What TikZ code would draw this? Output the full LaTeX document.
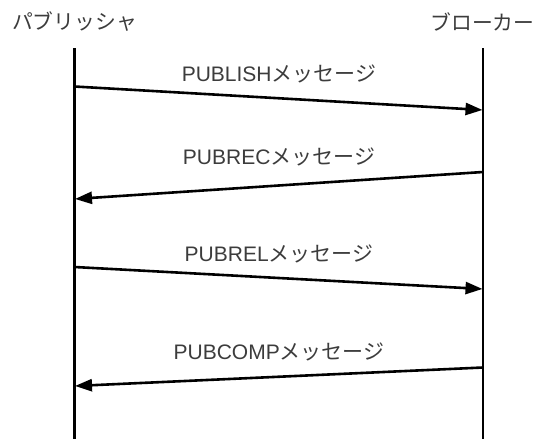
\documentclass[tikz,border=0pt]{standalone}
\usepackage{fontspec}
\setmainfont{Liberation Sans}
\newfontfamily\jpfont{Noto Sans CJK JP}
\usetikzlibrary{arrows.meta}
\definecolor{txt}{HTML}{3C3C3C}
\tikzset{
  header/.style={text=txt, font=\jpfont\fontsize{20.8}{24}\selectfont, inner sep=0pt},
  label/.style={text=txt, font=\fontsize{21}{25}\selectfont, inner sep=0pt},
  lifeline/.style={line width=2.8pt},
  msg/.style={line width=2.6pt, -{Triangle[length=17pt,width=12pt]}, shorten >=0.5pt},
}
\begin{document}
\begin{tikzpicture}[x=1pt,y=-1pt]
\useasboundingbox (0,0) rectangle (538,439);
\node[header] (pub) at (74.5,22) {パブリッシャ};
\node[header] (brk) at (482.5,22) {ブローカー};
\coordinate (pubtop) at (74.5,48);
\coordinate (pubbot) at (74.5,439);
\coordinate (brktop) at (483,48);
\coordinate (brkbot) at (483,439);
\draw[lifeline] (pubtop) -- (pubbot);
\draw[lifeline] (brktop) -- (brkbot);
% messages
\coordinate (m1s) at (74.5,86.5);
\coordinate (m1e) at (483,110);
\coordinate (m2s) at (483,172);
\coordinate (m2e) at (74.5,199);
\coordinate (m3s) at (74.5,267);
\coordinate (m3e) at (483,289);
\coordinate (m4s) at (483,367.5);
\coordinate (m4e) at (74.5,386);
\draw[msg] (m1s) -- (m1e);
\draw[msg] (m2s) -- (m2e);
\draw[msg] (m3s) -- (m3e);
\draw[msg] (m4s) -- (m4e);
\node[label] (l1) at (279,74) {PUBLISH{\jpfont メッセージ}};
\node[label] (l2) at (279,157) {PUBREC{\jpfont メッセージ}};
\node[label] (l3) at (279,254) {PUBREL{\jpfont メッセージ}};
\node[label] (l4) at (279,352) {PUBCOMP{\jpfont メッセージ}};
\end{tikzpicture}
\end{document}
